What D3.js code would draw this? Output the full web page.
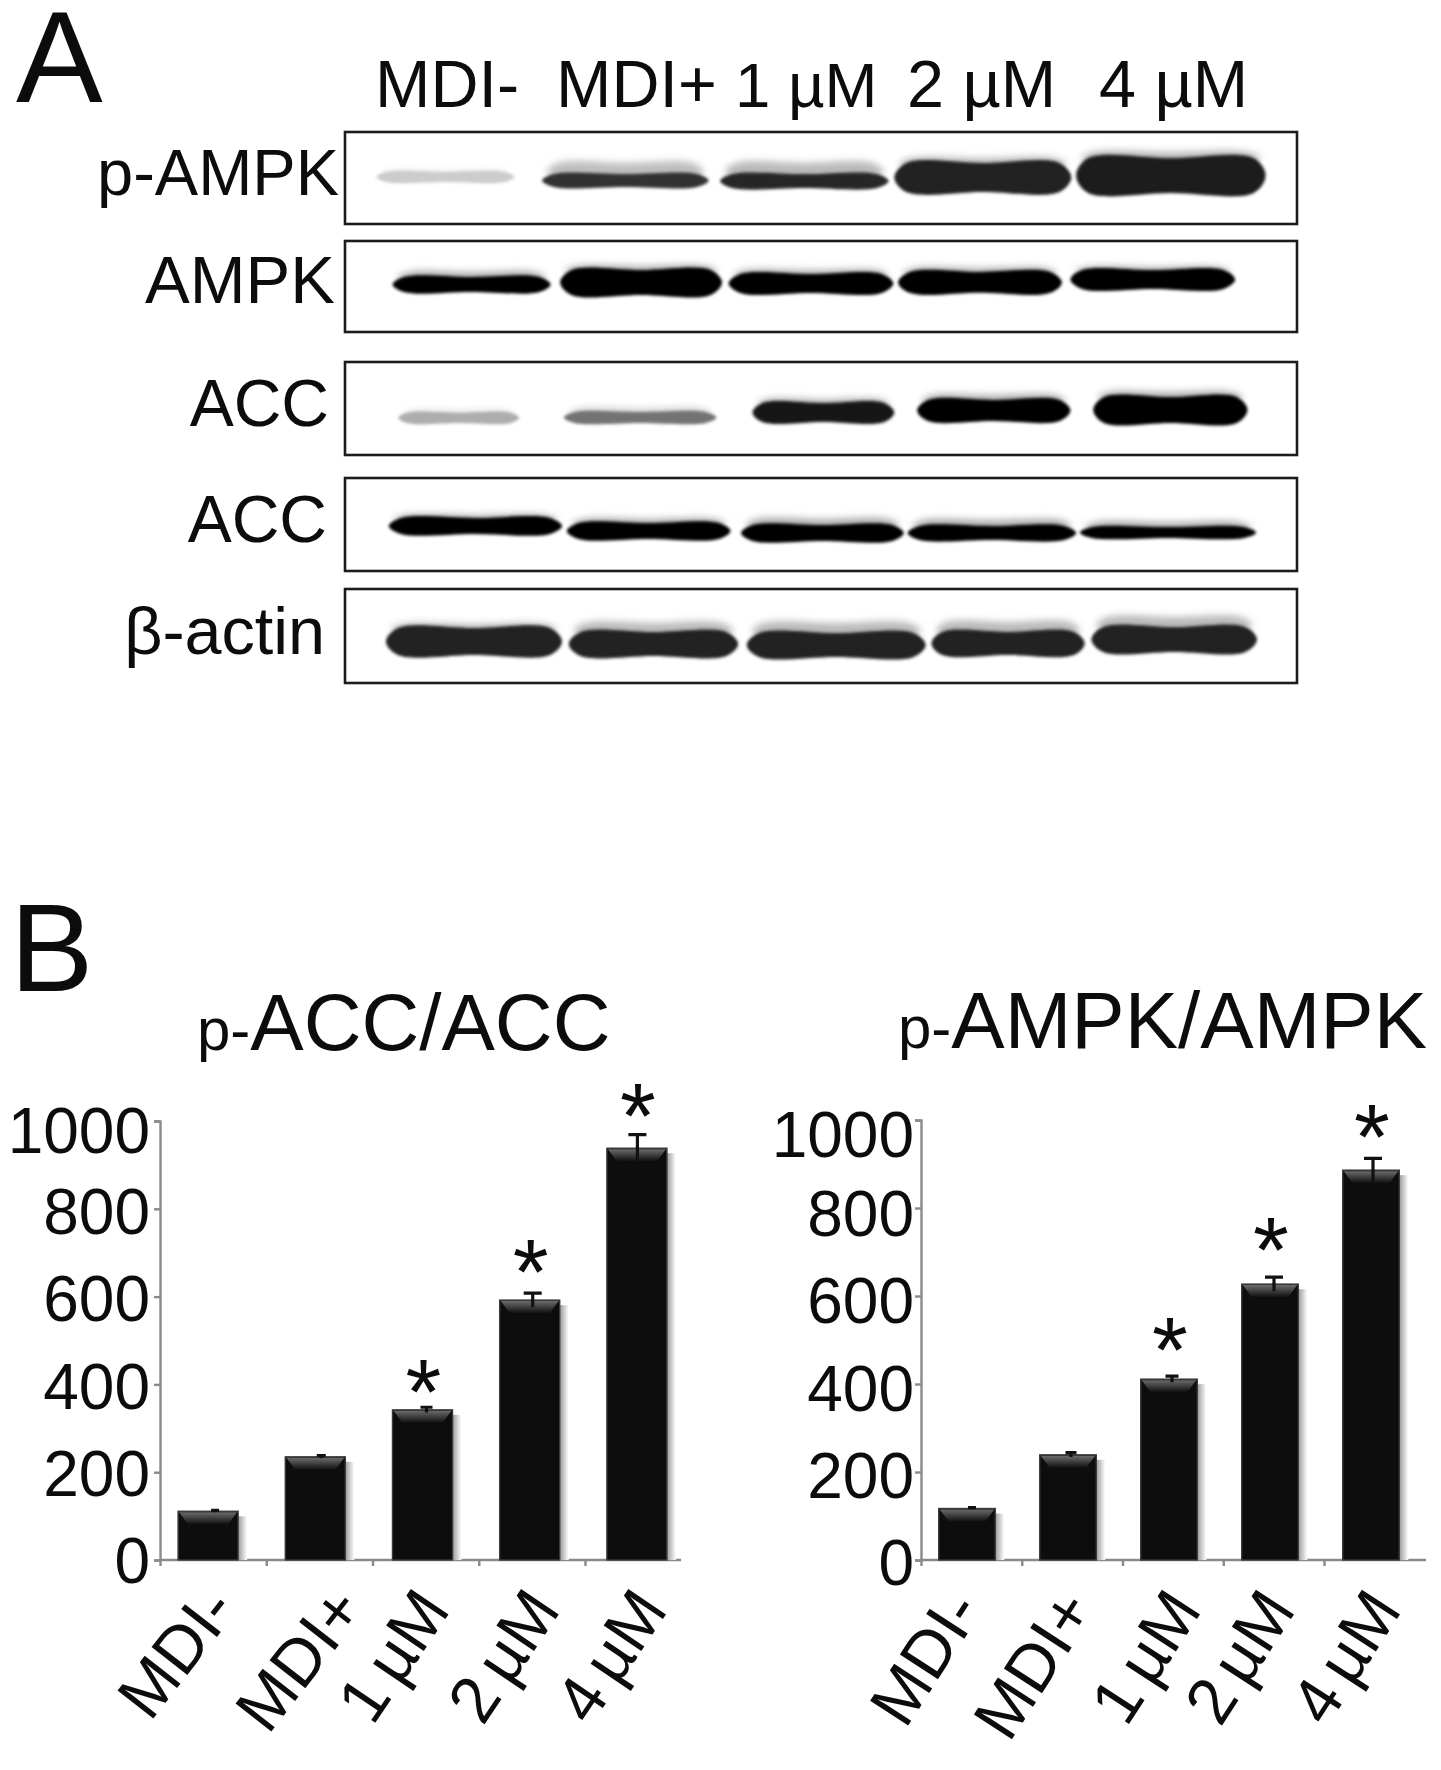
<!DOCTYPE html>
<html><head><meta charset="utf-8">
<script src="https://cdn.jsdelivr.net/npm/d3@7"></script>
<style>html,body{margin:0;padding:0;background:#fff}svg{display:block}text{font-family:"Liberation Sans",Arial,sans-serif;fill:#0c0c0c}</style>
</head><body><div id="chart"></div>
<script>
// ---------- data ----------
const categories = ["MDI-", "MDI+", "1 µM", "2 µM", "4 µM"];
const yTicks = [0, 200, 400, 600, 800, 1000];
const accValues = [111, 235, 342, 592, 938];
const accErrors = [2, 3, 6, 16, 31];
const accStars = [null, null, 410, 683, 1039];
const ampkValues = [117, 239, 411, 627, 886];
const ampkErrors = [2, 5, 7, 16, 27];
const ampkStars = [null, null, 504, 733, 989];
const blotNames = ["p-AMPK", "AMPK", "ACC", "ACC", "β-actin"];

// Blot readings: all in percent of the blot's width / height; density 0–1.
const pAmpkStart = [3.3, 20.7, 39.4, 57.7, 76.8];
const pAmpkEnd = [17.8, 38.2, 57.1, 76.3, 96.7];
const pAmpkTop = [43.5, 45.7, 45.7, 33.7, 28.3];
const pAmpkBottom = [54.3, 59.8, 60.9, 65.2, 66.3];
const pAmpkSmear = [41, 33.7, 33.7, 28.3, 21.7];
const pAmpkDensity = [.2, .8, .85, .86, .88];
const ampkStart = [5.0, 22.6, 40.3, 58.1, 76.2];
const ampkEnd = [21.6, 39.6, 57.6, 75.3, 93.5];
const ampkTop = [39.6, 32, 36.3, 34, 32];
const ampkBottom = [56, 59.3, 57.1, 57, 52.7];
const ampkSmear = [34, 27.5, 32, 29.7, 28.6];
const ampkDensity = [.98, 1, .98, .98, .98];
const pAccStart = [5.6, 23.0, 42.8, 60.1, 78.6];
const pAccEnd = [18.3, 39.0, 57.7, 76.2, 94.8];
const pAccTop = [54.5, 53.8, 44, 40.9, 37.6];
const pAccBottom = [65.6, 65.6, 64.5, 63.4, 65.6];
const pAccSmear = [52, 50, 40, 35.5, 32.3];
const pAccDensity = [.32, .55, .92, 1, 1];
const accStart = [4.6, 23.3, 41.6, 59.1, 77.2];
const accEnd = [22.8, 40.5, 58.7, 76.8, 95.7];
const accTop = [43, 48.4, 50.5, 51.6, 52.7];
const accBottom = [60.2, 65.6, 67.7, 66.7, 64.5];
const accSmear = [39.8, 44, 44, 45, 47.3];
const accDensity = [1, 1, 1, 1, 1];
const actinStart = [4.3, 23.5, 42.2, 61.6, 78.4];
const actinEnd = [22.8, 41.3, 61.0, 77.7, 95.8];
const actinTop = [41.5, 45.7, 46.8, 45.7, 40.4];
const actinBottom = [70.2, 71.3, 72.3, 70.2, 67];
const actinSmear = [37.2, 36.2, 36.2, 35.1, 29.8];
const actinDensity = [.86, .86, .86, .86, .86];

const blots = [
  {s:pAmpkStart,e:pAmpkEnd,t:pAmpkTop,b:pAmpkBottom,h:pAmpkSmear,d:pAmpkDensity},
  {s:ampkStart,e:ampkEnd,t:ampkTop,b:ampkBottom,h:ampkSmear,d:ampkDensity},
  {s:pAccStart,e:pAccEnd,t:pAccTop,b:pAccBottom,h:pAccSmear,d:pAccDensity},
  {s:accStart,e:accEnd,t:accTop,b:accBottom,h:accSmear,d:accDensity},
  {s:actinStart,e:actinEnd,t:actinTop,b:actinBottom,h:actinSmear,d:actinDensity}
];

// ---------- layout ----------
const W = 1441, H = 1770;
const svg = d3.select("#chart").append("svg").attr("width", W).attr("height", H);
const defs = svg.append("defs");
[["soft",1.7],["haze",3.6]].forEach(([id,sd]) =>
  defs.append("filter").attr("id",id).attr("x","-10%").attr("y","-60%").attr("width","120%").attr("height","220%")
    .append("feGaussianBlur").attr("stdDeviation",sd));
const bevel = defs.append("linearGradient").attr("id","bevel").attr("x1",0).attr("x2",0).attr("y1",0).attr("y2",1);
bevel.append("stop").attr("offset",0).attr("stop-color","#6a6a6a");
bevel.append("stop").attr("offset",1).attr("stop-color","#101010");
const shade = defs.append("linearGradient").attr("id","shade");
shade.append("stop").attr("offset",0).attr("stop-color","#9a9a9a");
shade.append("stop").attr("offset",1).attr("stop-color","#ffffff");

svg.append("text").attr("x",16).attr("y",102).attr("font-size",130).text("A");
svg.append("text").attr("x",10).attr("y",991).attr("font-size",125).text("B");

// ---------- panel A ----------
const blotBoxes = [[132,224],[241,332],[362,455],[478,571],[589,683]];
const blotLabelEnd = [339,335,329,327,325];
const blotLabelBase = [195,303,426,542,654];
const blotLabelSize = [65,67,66,66,66.5];
const laneLabelX = [375,556,735,907,1099];
const laneLabelSize = [66.5,66.5,63.5,66.5,66.5];
const density = d3.scaleLinear().domain([0,1]).range(["#ffffff","#000000"]);
const blob = d3.line().curve(d3.curveCatmullRomClosed.alpha(0.5));
function shape(x0,x1,t,b){
  const e = Math.min(12,(x1-x0)*.07), c=(t+b)/2, m=(x0+x1)/2;
  return blob([[x0,c],[x0+e,t],[m,t],[x1-e,t],[x1,c],[x1-e,b],[m,b],[x0+e,b]]);
}
const blotX = d3.scaleLinear().domain([0,100]).range([345,1297]);
blots.forEach((bl,i)=>{
  const [y0,y1]=blotBoxes[i];
  const y = d3.scaleLinear().domain([0,100]).range([y0,y1]);
  const g = svg.append("g");
  const lanes = d3.range(5);
  g.selectAll("path.smear").data(lanes).join("path").attr("class","smear")
    .attr("d",k=>shape(blotX(bl.s[k])+5,blotX(bl.e[k])-5,y(bl.h[k]),y(bl.t[k])+6))
    .attr("fill",k=>density(bl.d[k]*.32)).attr("filter","url(#haze)");
  g.selectAll("path.band").data(lanes).join("path").attr("class","band")
    .attr("d",k=>shape(blotX(bl.s[k]),blotX(bl.e[k]),y(bl.t[k]),y(bl.b[k])))
    .attr("fill",k=>density(bl.d[k])).attr("filter","url(#soft)");
  svg.append("rect").attr("x",blotX(0)).attr("y",y0).attr("width",blotX(100)-blotX(0)).attr("height",y1-y0)
    .attr("fill","none").attr("stroke","#1c1c1c").attr("stroke-width",2.6);
  svg.append("text").attr("x",blotLabelEnd[i]).attr("y",blotLabelBase[i]).attr("text-anchor","end")
    .attr("font-size",blotLabelSize[i]).text(blotNames[i]);
});
svg.selectAll("text.lane").data(categories).join("text").attr("class","lane")
  .attr("x",(d,i)=>laneLabelX[i]).attr("y",107).attr("font-size",(d,i)=>laneLabelSize[i]).text(d=>d);

// ---------- panel B ----------
function barChart(o){
  const g = svg.append("g");
  const y = d3.scaleLinear().domain([0,1000]).range([o.y0,o.y1]);
  const yLab = d3.scaleLinear().domain([0,800,1000]).range(o.labelBase);
  const x = d3.scaleBand().domain(categories).range(o.band).paddingInner(o.pad).paddingOuter(o.pad/2);
  const tickX = d3.scalePoint().domain(categories).range(o.ticks);
  const cx = d => x(d)+x.bandwidth()/2;
  // axes
  const ya = g.append("g").attr("transform",`translate(${o.axisX},0)`).call(d3.axisLeft(y).tickValues(yTicks).tickSize(6).tickFormat(""));
  const xa = g.append("g").attr("transform",`translate(0,${o.y0})`).call(d3.axisBottom(tickX).tickSize(6).tickFormat(""));
  xa.select(".domain").attr("d",`M${o.axisX},0H${o.axisEnd}`);
  [ya,xa].forEach(a=>{a.selectAll("line,path").attr("stroke","#8a8a8a").attr("stroke-width",2.4);});
  // labels
  g.selectAll("text.yl").data(yTicks).join("text").attr("class","yl").attr("text-anchor","end")
    .attr("x",o.labelRight).attr("y",d=>yLab(d)).attr("font-size",64).text(d=>d);
  // bars
  const bars = g.selectAll("g.bar").data(categories.map((c,i)=>({c,i,v:o.values[i],e:o.errors[i],s:o.stars[i]}))).join("g").attr("class","bar");
  bars.append("rect").attr("x",d=>x(d.c)+x.bandwidth()).attr("y",d=>y(d.v)+5).attr("width",9).attr("height",d=>o.y0-y(d.v)-5).attr("fill","url(#shade)");
  bars.append("rect").attr("x",d=>x(d.c)).attr("y",d=>y(d.v)).attr("width",x.bandwidth()).attr("height",d=>o.y0-y(d.v)).attr("fill","#0d0d0d").attr("stroke","#3a3a3a").attr("stroke-width",1.4);
  bars.append("path").attr("d",d=>{const a=x(d.c)+1,b=a+x.bandwidth()-2,t=y(d.v)+1;return `M${a},${t}H${b}L${b-9},${t+12}H${a+9}Z`;}).attr("fill","url(#bevel)");
  const errPath = d=>{const c=cx(d.c)+o.errDx[d.i],t=y(d.v+d.e),l=y(d.v-d.e),w=Math.min(9,3+d.e*.5);return `M${c-w},${t}H${c+w}M${c},${t}V${l}`;};
  bars.append("path").attr("d",errPath).attr("fill","none").attr("stroke","#111").attr("stroke-width",3.2);
  bars.filter(d=>d.s!==null).append("text").attr("text-anchor","middle").attr("x",d=>cx(d.c)+o.starDx).attr("y",d=>y(d.s)).attr("dy","0.48em")
    .attr("font-size",92).text("*");
  // rotated category labels
  g.selectAll("text.xl").data(categories).join("text").attr("class","xl").attr("text-anchor","end")
    .attr("transform",(d,i)=>`translate(${cx(d)+o.labelDx[i]},${o.y0+o.labelDy}) rotate(${-o.labelAngle[i]})`)
    .attr("font-size",66).attr("word-spacing",-7).text(d=>d);
  // title
  const t = g.append("text").attr("x",o.titleX).attr("y",o.titleY).attr("font-size",80);
  t.append("tspan").attr("font-size",60).text("p-");
  t.append("tspan").text(o.title);
}
barChart({values:accValues,errors:accErrors,stars:accStars,y0:1560,y1:1121,labelBase:[1583,1234,1153],axisX:160,axisEnd:681,
  band:[154.5,690.5],pad:.44,ticks:[160,585],labelRight:150,labelDx:[30,51,29,32,32],labelDy:50,labelAngle:[52,52,56,56,56],errDx:[7,6,4,3,.5],starDx:1,titleX:197,titleY:1050,title:"ACC/ACC"});
barChart({values:ampkValues,errors:ampkErrors,stars:ampkStars,y0:1560,y1:1120,labelBase:[1585,1236,1156.5],axisX:921,axisEnd:1426,
  band:[916.5,1421.5],pad:.44,ticks:[921,1324],labelRight:914,labelDx:[16,28,34,27,32],labelDy:50,labelAngle:[57,57,57,57,57],errDx:[5,3,3,4,2],starDx:1,titleX:898,titleY:1048,title:"AMPK/AMPK"});
</script></body></html>
